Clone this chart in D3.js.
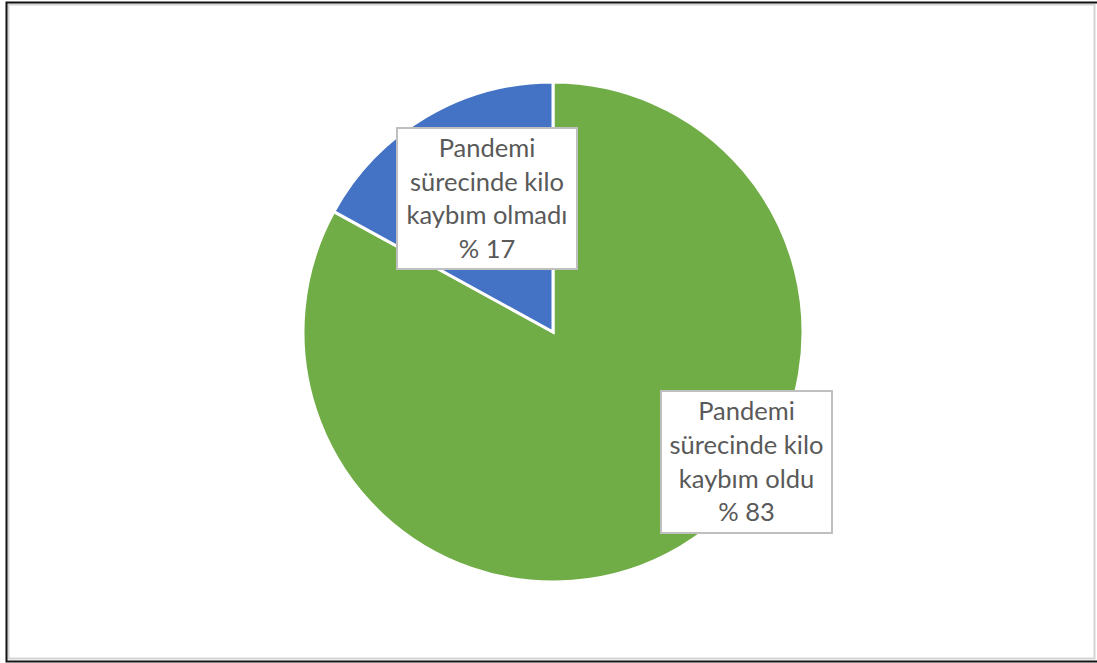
<!DOCTYPE html>
<html>
<head>
<meta charset="utf-8">
<script src="https://cdn.jsdelivr.net/npm/d3@7"></script>
<style>
  html, body { margin: 0; padding: 0; background: #ffffff; }
  svg { display: block; }
</style>
</head>
<body>
<svg id="chart" width="1097" height="663"></svg>
<script>
// Kilo kaybı dağılımı (yüzde)
const categories = ["Pandemi sürecinde kilo kaybım oldu", "Pandemi sürecinde kilo kaybım olmadı"];
const values = [83, 17];
const colors = ["#70AD47", "#4472C4"];
const labelLines = [
  ["Pandemi", "sürecinde kilo", "kaybım oldu"],
  ["Pandemi", "sürecinde kilo", "kaybım olmadı"]
];

const W = 1097, H = 663;
const svg = d3.select("#chart");

// outer frame with inner light edge
svg.append("rect").attr("x", 8.5).attr("y", 4.5).attr("width", 1086).attr("height", 654)
  .attr("fill", "none").attr("stroke", "#d4d4d4").attr("stroke-width", 2);
svg.append("rect").attr("x", 6.5).attr("y", 2.5).attr("width", 1092).attr("height", 659)
  .attr("fill", "none").attr("stroke", "#111").attr("stroke-width", 2);

const cx = 553, cy = 332, R = 250;
const data = categories.map((c, i) => ({ name: c, value: values[i], color: colors[i], lines: labelLines[i] }));

const pie = d3.pie().value(d => d.value).sort(null);
const arc = d3.arc().innerRadius(0).outerRadius(R);
const arcs = pie(data);

const g = svg.append("g").attr("transform", `translate(${cx},${cy})`);
g.selectAll("path.slice").data(arcs).join("path")
  .attr("class", "slice")
  .attr("d", arc)
  .attr("fill", d => d.data.color)
  .attr("stroke", "#ffffff")
  .attr("stroke-width", 3)
  .attr("stroke-linejoin", "miter");

// data label boxes (absolute layout of each callout)
const boxes = [
  { x: 661, y: 391, w: 171, h: 142 },
  { x: 397, y: 128, w: 180, h: 141 }
];
const lineH = 33.7;

arcs.forEach((a, i) => {
  const b = boxes[i];
  const lg = svg.append("g");
  lg.append("rect").attr("x", b.x).attr("y", b.y).attr("width", b.w).attr("height", b.h)
    .attr("fill", "#ffffff").attr("stroke", "#bfbfbf").attr("stroke-width", 2);
  const lines = a.data.lines.concat(["% " + a.data.value]);
  const midX = b.x + b.w / 2;
  const top = b.y + b.h / 2 - lineH * (lines.length - 1) / 2;
  lines.forEach((t, k) => {
    lg.append("text")
      .attr("x", midX)
      .attr("y", top + k * lineH)
      .attr("dy", "0.35em")
      .attr("text-anchor", "middle")
      .attr("font-family", "Lato, 'Open Sans', sans-serif")
      .attr("font-size", 25.5)
      .attr("fill", "#595959")
      .text(t);
  });
});
</script>
</body>
</html>
